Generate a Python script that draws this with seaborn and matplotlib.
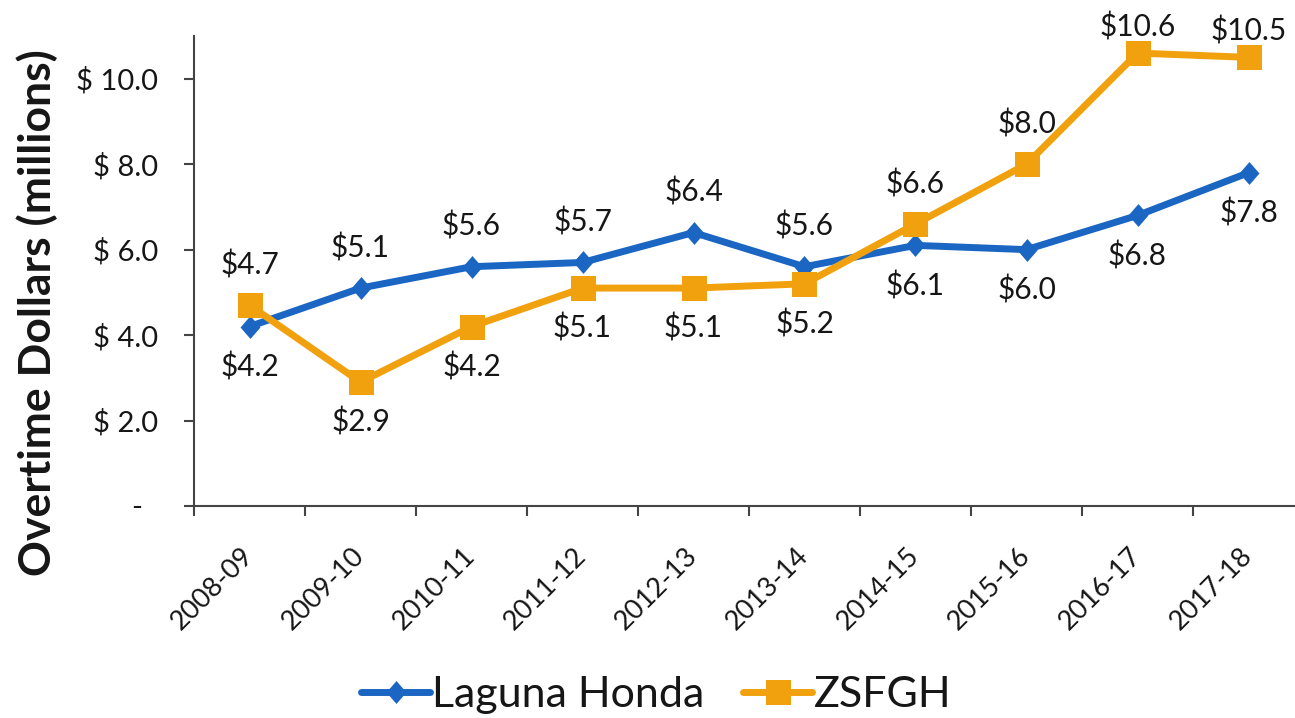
import numpy as np
import pandas as pd
import matplotlib
matplotlib.use("Agg")
import matplotlib.pyplot as plt
from matplotlib.lines import Line2D
from matplotlib.ticker import FuncFormatter
import seaborn as sns

# ─── DATA ─────────────────────────────────────────────────────────────────────
years = ["2008-09", "2009-10", "2010-11", "2011-12", "2012-13",
         "2013-14", "2014-15", "2015-16", "2016-17", "2017-18"]
laguna_honda = [4.2, 5.1, 5.6, 5.7, 6.4, 5.6, 6.1, 6.0, 6.8, 7.8]
zsfgh        = [4.7, 2.9, 4.2, 5.1, 5.1, 5.2, 6.6, 8.0, 10.6, 10.5]
series_names = ["Laguna Honda", "ZSFGH"]
y_ticks = [0, 2, 4, 6, 8, 10]

# label placement (+1 above the point, -1 below)
lh_side = [-1, 1, 1, 1, 1, 1, -1, -1, -1, -1]
zs_side = [1, -1, -1, -1, -1, -1, 1, 1, 1, 1]

# ─── STYLE ────────────────────────────────────────────────────────────────────
BLUE   = "#1A66C2"
ORANGE = "#F2A10E"
AXIS   = "#444444"
TEXT   = "#161616"
# Excel-like diamond: a bit taller than wide
DIAMOND = [(0, 1), (0.87, 0), (0, -1), (-0.87, 0), (0, 1)]

sns.set_theme(style="white")
plt.rcParams["font.family"] = ["Lato", "DejaVu Sans"]
plt.rcParams["text.color"] = TEXT

df = pd.DataFrame({
    "year":  years * 2,
    "value": laguna_honda + zsfgh,
    "site":  [series_names[0]] * len(years) + [series_names[1]] * len(years),
})

fig = plt.figure(figsize=(12.95, 7.18), dpi=100)
ax = fig.add_axes([194 / 1295, 212 / 718, 1110 / 1295, 470 / 718])

palette = {series_names[0]: BLUE, series_names[1]: ORANGE}
sns.lineplot(data=df, x="year", y="value", hue="site", style="site",
             palette=palette, markers={series_names[0]: DIAMOND, series_names[1]: "s"},
             dashes=False, linewidth=5, markersize=16.5, markeredgewidth=0,
             legend=False, ax=ax, sort=False)
ax.lines[1].set_markersize(18)

ax.set_xlim(-0.5, 9.5)
ax.set_ylim(0, 11)

# ─── VALUE LABELS ─────────────────────────────────────────────────────────────
# Excel pulls labels down when they would leave the chart area
for vals, sides in ((laguna_honda, lh_side), (zsfgh, zs_side)):
    for i, (v, s) in enumerate(zip(vals, sides)):
        off = 29 * s
        if s > 0 and v > 10:
            off = 19
        ax.annotate(f"${v:.1f}", (i, v), xytext=(0, off),
                    textcoords="offset points", ha="center", va="center",
                    fontsize=21.5, color=TEXT)

# ─── AXES ─────────────────────────────────────────────────────────────────────
ax.set_yticks(y_ticks)
ax.yaxis.set_major_formatter(FuncFormatter(
    lambda v, _: "-  " if v == 0 else f"$ {v:.1f}"))
ax.tick_params(axis="y", direction="out", length=7, width=1.5, color=AXIS,
               pad=19, labelsize=21, labelcolor=TEXT, left=True)

ax.set_xticks(np.arange(-0.5, 10, 1))
ax.set_xticklabels([])
ax.set_xticks(range(len(years)), minor=True)
ax.set_xticklabels(years, minor=True, rotation=45, ha="right",
                   rotation_mode="anchor", va="center")
ax.tick_params(axis="x", which="major", direction="out", length=7, width=1.5,
               color=AXIS, bottom=True)
ax.tick_params(axis="x", which="minor", length=0, pad=33, labelsize=19.5,
               labelcolor=TEXT)
ax.set_xlabel("")
ax.set_ylabel("")

for side in ("top", "right"):
    ax.spines[side].set_visible(False)
for side in ("left", "bottom"):
    ax.spines[side].set_color(AXIS)
    ax.spines[side].set_linewidth(1.5)
ax.grid(False)

fig.text(0.029, 0.565, "Overtime Dollars (millions)", rotation=90,
         ha="center", va="center", fontsize=32, fontweight="bold", color=TEXT)

# ─── LEGEND ───────────────────────────────────────────────────────────────────
handles = [
    Line2D([], [], color=BLUE, lw=5, marker=DIAMOND, ms=16.5, mew=0),
    Line2D([], [], color=ORANGE, lw=5, marker="s", ms=18, mew=0),
]
fig.legend(handles, series_names, loc="center", bbox_to_anchor=(0.507, 0.032),
           ncol=2, frameon=False, fontsize=31, handlelength=1.6,
           handletextpad=0.05, columnspacing=0.9)

plt.savefig("out.png", dpi=100)
plt.close()
